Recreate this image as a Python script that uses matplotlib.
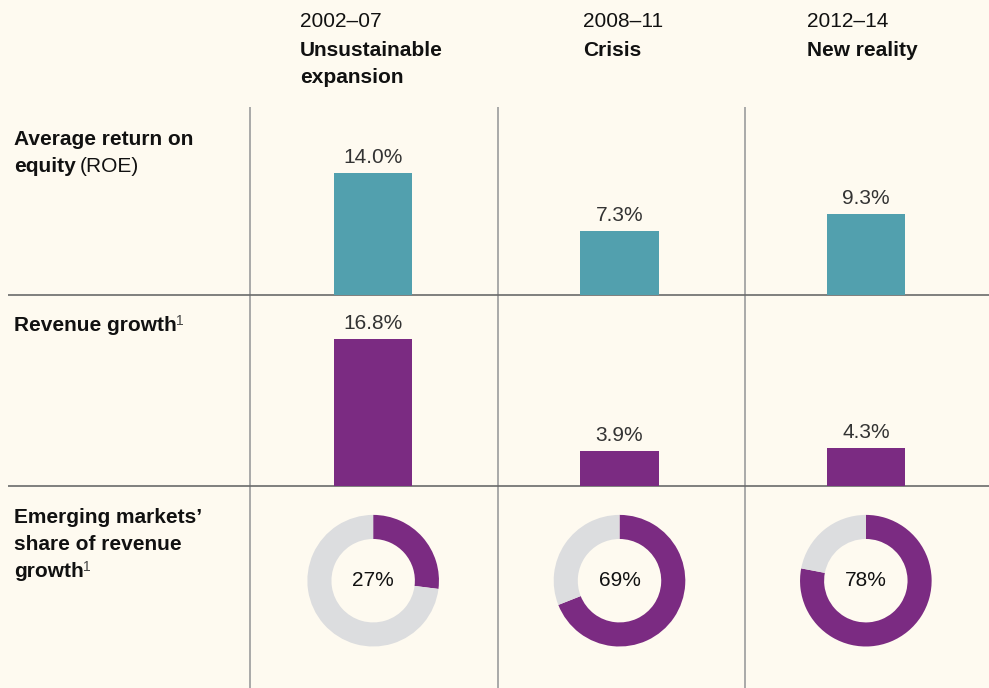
import matplotlib
matplotlib.use('Agg')
import matplotlib.pyplot as plt

# --- data ---
periods = ['2002–07', '2008–11', '2012–14']
period_names = [['Unsustainable', 'expansion'], ['Crisis'], ['New reality']]
roe = [14.0, 7.3, 9.3]
revenue_growth = [16.8, 3.9, 4.3]
em_share = [27, 69, 78]

# --- style ---
BG = '#fefaf0'
TEAL = '#52a0ae'
PURPLE = '#7b2b82'
GREY = '#dcdddf'
INK = '#111111'
VAL = '#333333'
W, H = 989, 688
PX_PER_PCT = 8.72
FS = 15

plt.rcParams['font.family'] = ['Liberation Sans', 'DejaVu Sans']

fig = plt.figure(figsize=(W / 100, H / 100), dpi=100, facecolor=BG)


def box(x0, y0, x1, y1):
    # pixel box (origin top-left) -> figure fraction rect
    return [x0 / W, 1 - y1 / H, (x1 - x0) / W, (y1 - y0) / H]


# overlay axes in pixel units for grid lines and labels
ov = fig.add_axes([0, 0, 1, 1])
ov.set_xlim(0, W)
ov.set_ylim(H, 0)
ov.axis('off')

col_left = 250
col_lines = [250, 498, 745]
row_lines = [295, 485.5]
for x in col_lines:
    ov.plot([x, x], [107, H], color='#a3a3a3', lw=1.3, solid_capstyle='butt')
for y in row_lines:
    ov.plot([8, W], [y, y], color='#6a6a6a', lw=1.2, solid_capstyle='butt')

# column headers
header_x = [300, 583, 807]
for x, p, names in zip(header_x, periods, period_names):
    ov.text(x, 27, p, fontsize=FS, color=INK, va='baseline')
    for k, n in enumerate(names):
        ov.text(x, 56 + 27 * k, n, fontsize=FS, fontweight='bold', color=INK, va='baseline')

fig.canvas.draw()
renderer = fig.canvas.get_renderer()


def end_x(t):
    return t.get_window_extent(renderer).x1


# row labels
ov.text(14, 145, 'Average return on', fontsize=FS, fontweight='bold', color=INK, va='baseline')
t = ov.text(14, 172, 'equity', fontsize=FS, fontweight='bold', color=INK, va='baseline')
ov.text(end_x(t) + 4, 172, '(ROE)', fontsize=FS, color=INK, va='baseline')

t = ov.text(14, 331, 'Revenue growth', fontsize=FS, fontweight='bold', color=INK, va='baseline')
ov.text(end_x(t) - 1, 325, '1', fontsize=10, color='#444444', va='baseline')

ov.text(14, 523, 'Emerging markets\u2019', fontsize=FS, fontweight='bold', color=INK, va='baseline')
ov.text(14, 550, 'share of revenue', fontsize=FS, fontweight='bold', color=INK, va='baseline')
t = ov.text(14, 577, 'growth', fontsize=FS, fontweight='bold', color=INK, va='baseline')
ov.text(end_x(t) - 1, 571, '1', fontsize=10, color='#444444', va='baseline')


# bar rows
def bar_row(values, color, top, base):
    ax = fig.add_axes(box(col_left, top, W, base))
    ax.set_xlim(-0.5, 2.5)
    ax.set_ylim(0, (base - top) / PX_PER_PCT)
    ax.axis('off')
    bars = ax.bar(range(len(values)), values, width=0.317, color=color)
    for b, v in zip(bars, values):
        ax.annotate(f'{v:.1f}%', (b.get_x() + b.get_width() / 2, v),
                    xytext=(0, 7.3), textcoords='offset points',
                    ha='center', va='baseline', fontsize=FS, color=VAL)


bar_row(roe, TEAL, 107, row_lines[0])
bar_row(revenue_growth, PURPLE, row_lines[0], row_lines[1])

# donuts
col_w = (W - col_left) / 3
cy, r = 580.7, 65.8
for i, v in enumerate(em_share):
    cx = col_left + (i + 0.5) * col_w
    ax = fig.add_axes(box(cx - r, cy - r, cx + r, cy + r))
    ax.pie([v, 100 - v], colors=[PURPLE, GREY], startangle=90, counterclock=False,
           wedgeprops=dict(width=0.366, edgecolor='none'))
    ax.set_xlim(-1, 1)
    ax.set_ylim(-1, 1)
    ax.text(0, 0, f'{v}%', ha='center', va='center', fontsize=FS, color=INK)

fig.savefig('out.png', dpi=100, facecolor=BG)
